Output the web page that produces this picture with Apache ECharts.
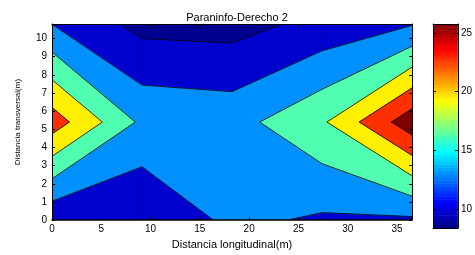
<!DOCTYPE html>
<html>
<head>
<meta charset="utf-8">
<script src="https://cdn.jsdelivr.net/npm/echarts@6/dist/echarts.min.js"></script>
<style>
  html, body { margin: 0; padding: 0; background: #fff; }
  #chart { width: 475px; height: 255px; }
</style>
</head>
<body>
<div id="chart"></div>
<script>
// grid nodes (m)
const xs = [0, 9.13, 18.26, 27.39, 36.52];
const ys = [0, 5.4, 10.8];
// values at nodes, one row per y
const zRow0 = [10.48, 10.15, 13.74, 12.54, 12.48];
const zRow1 = [23.58, 15.39, 14.87, 18.55, 26.9];
const zRow2 = [12.96, 9.05, 8.83, 10.91, 12.8];
const zRows = [zRow0, zRow1, zRow2];
const levels = [10, 13, 16, 19, 22, 25];
const bandColors = ['#00008f', '#0000cf', '#0090ff', '#50ffaf', '#ffef00', '#ff3000', '#800000'];
const cbarMin = 8.38;
const cbarMax = 25.77;
const cbarTicks = [10, 15, 20, 25];

const FONT = 'Liberation Sans, Arial, sans-serif';

function jet(t) {
  const c = v => Math.round(255 * Math.max(0, Math.min(1, v)));
  return 'rgb(' + c(1.5 - Math.abs(4 * t - 3)) + ',' + c(1.5 - Math.abs(4 * t - 2)) + ',' + c(1.5 - Math.abs(4 * t - 1)) + ')';
}

// corners of a cell, counter clockwise, [x, y, z]
function cellPts(ci, ri) {
  return [
    [xs[ci], ys[ri], zRows[ri][ci]],
    [xs[ci + 1], ys[ri], zRows[ri][ci + 1]],
    [xs[ci + 1], ys[ri + 1], zRows[ri + 1][ci + 1]],
    [xs[ci], ys[ri + 1], zRows[ri + 1][ci]]
  ];
}

function clipPoly(pts, L) {
  const out = [];
  for (let i = 0; i < pts.length; i++) {
    const P = pts[i], Q = pts[(i + 1) % pts.length];
    const pin = P[2] >= L, qin = Q[2] >= L;
    if (pin) out.push(P);
    if (pin !== qin) {
      const t = (L - P[2]) / (Q[2] - P[2]);
      out.push([P[0] + t * (Q[0] - P[0]), P[1] + t * (Q[1] - P[1]), L]);
    }
  }
  return out;
}

function crossings(pts, L) {
  const out = [];
  for (let i = 0; i < 4; i++) {
    const P = pts[i], Q = pts[(i + 1) % 4];
    if ((P[2] >= L) !== (Q[2] >= L)) {
      const t = (L - P[2]) / (Q[2] - P[2]);
      out.push([P[0] + t * (Q[0] - P[0]), P[1] + t * (Q[1] - P[1])]);
    }
  }
  return out;
}

// band by band, so every lower band is painted before any higher one
const fillData = [];
const lineData = [];
for (let k = 0; k < bandColors.length; k++) {
  for (let ri = 0; ri < ys.length - 1; ri++) {
    for (let ci = 0; ci < xs.length - 1; ci++) {
      fillData.push([ci, ri, k]);
      if (k < levels.length) lineData.push([ci, ri, k]);
    }
  }
}

const cbarData = [];
for (let i = 0; i < 64; i++) {
  cbarData.push([cbarMin + i * (cbarMax - cbarMin) / 64, cbarMin + (i + 1) * (cbarMax - cbarMin) / 64, jet((i + 0.5) / 64)]);
}

const chart = echarts.init(document.getElementById('chart'));

const axisLine = { show: true, onZero: false, lineStyle: { color: '#000', width: 1 } };
const tickIn = { show: true, inside: true, length: 3, lineStyle: { color: '#000' } };
const labelStyle = { color: '#000', fontSize: 10, fontFamily: FONT };

chart.setOption({
  animation: false,
  title: {
    text: 'Paraninfo-Derecho 2',
    left: 232, top: 7, textAlign: 'center',
    textStyle: { fontSize: 11, fontWeight: 'normal', color: '#000', fontFamily: FONT }
  },
  grid: [
    { left: 52, right: 63, top: 24, bottom: 27 },
    { left: 433, right: 15, top: 24, bottom: 27 }
  ],
  xAxis: [
    {
      gridIndex: 0, type: 'value', min: 0, max: 36.52, interval: 5, position: 'bottom', z: 10,
      name: 'Distancia longitudinal(m)', nameLocation: 'middle', nameGap: 12,
      nameTextStyle: { color: '#000', fontSize: 11, fontFamily: FONT },
      axisLine: { show: true, onZero: false, lineStyle: { color: '#000', width: 1.5 } },
      axisTick: tickIn, splitLine: { show: false },
      axisLabel: { ...labelStyle, margin: 4, showMaxLabel: false }
    },
    {
      gridIndex: 0, type: 'value', min: 0, max: 36.52, interval: 5, position: 'top', z: 10,
      axisLine: axisLine, axisTick: tickIn, splitLine: { show: false }, axisLabel: { show: false }
    },
    {
      gridIndex: 1, type: 'value', min: 0, max: 1, z: 10,
      axisLine: axisLine, axisTick: { show: false }, splitLine: { show: false }, axisLabel: { show: false }
    },
    {
      gridIndex: 1, type: 'value', min: 0, max: 1, position: 'top', z: 10,
      axisLine: axisLine, axisTick: { show: false }, splitLine: { show: false }, axisLabel: { show: false }
    }
  ],
  yAxis: [
    {
      gridIndex: 0, type: 'value', min: 0, max: 10.8, interval: 1, position: 'left', z: 10,
      name: 'Distancia transversal(m)', nameLocation: 'middle', nameGap: 30, nameRotate: 90,
      nameTextStyle: { color: '#000', fontSize: 8, fontFamily: FONT },
      axisLine: axisLine, axisTick: tickIn, splitLine: { show: false },
      axisLabel: { ...labelStyle, margin: 5, showMaxLabel: false }
    },
    {
      gridIndex: 0, type: 'value', min: 0, max: 10.8, interval: 1, position: 'right', z: 10,
      axisLine: axisLine, axisTick: tickIn, splitLine: { show: false }, axisLabel: { show: false }
    },
    {
      gridIndex: 1, type: 'value', min: cbarMin, max: cbarMax, position: 'left', z: 10,
      axisLine: axisLine, axisTick: { ...tickIn, customValues: cbarTicks }, splitLine: { show: false },
      axisLabel: { show: false }
    },
    {
      gridIndex: 1, type: 'value', min: cbarMin, max: cbarMax, position: 'right', z: 10,
      axisLine: axisLine, axisTick: { ...tickIn, customValues: cbarTicks }, splitLine: { show: false },
      axisLabel: { ...labelStyle, margin: 3, customValues: cbarTicks }
    }
  ],
  series: [
    {
      type: 'custom', name: 'bands', xAxisIndex: 0, yAxisIndex: 0, clip: true, z: 1,
      data: fillData,
      renderItem: function (params, api) {
        const ci = api.value(0), ri = api.value(1), k = api.value(2);
        let poly = cellPts(ci, ri);
        if (k > 0) poly = clipPoly(poly, levels[k - 1]);
        if (poly.length < 3) return null;
        return {
          type: 'polygon',
          shape: { points: poly.map(p => api.coord([p[0], p[1]])) },
          style: { fill: bandColors[k], stroke: bandColors[k], lineWidth: 0.6 }
        };
      }
    },
    {
      type: 'custom', name: 'lines', xAxisIndex: 0, yAxisIndex: 0, clip: true, z: 2,
      data: lineData,
      renderItem: function (params, api) {
        const ci = api.value(0), ri = api.value(1), k = api.value(2);
        const pts = crossings(cellPts(ci, ri), levels[k]);
        if (pts.length < 2) return null;
        const children = [];
        for (let i = 0; i + 1 < pts.length; i += 2) {
          const a = api.coord(pts[i]), b = api.coord(pts[i + 1]);
          children.push({
            type: 'line',
            shape: { x1: a[0], y1: a[1], x2: b[0], y2: b[1] },
            style: { stroke: '#000', lineWidth: 0.8 }
          });
        }
        return { type: 'group', children: children };
      }
    },
    {
      type: 'custom', name: 'colorbar', xAxisIndex: 2, yAxisIndex: 2, z: 1,
      data: cbarData,
      renderItem: function (params, api) {
        const a = api.coord([0, api.value(0)]);
        const b = api.coord([1, api.value(1)]);
        return {
          type: 'rect',
          shape: { x: a[0], y: b[1], width: b[0] - a[0], height: a[1] - b[1] + 0.5 },
          style: { fill: cbarData[params.dataIndex][2] }
        };
      }
    }
  ]
});
</script>
</body>
</html>
